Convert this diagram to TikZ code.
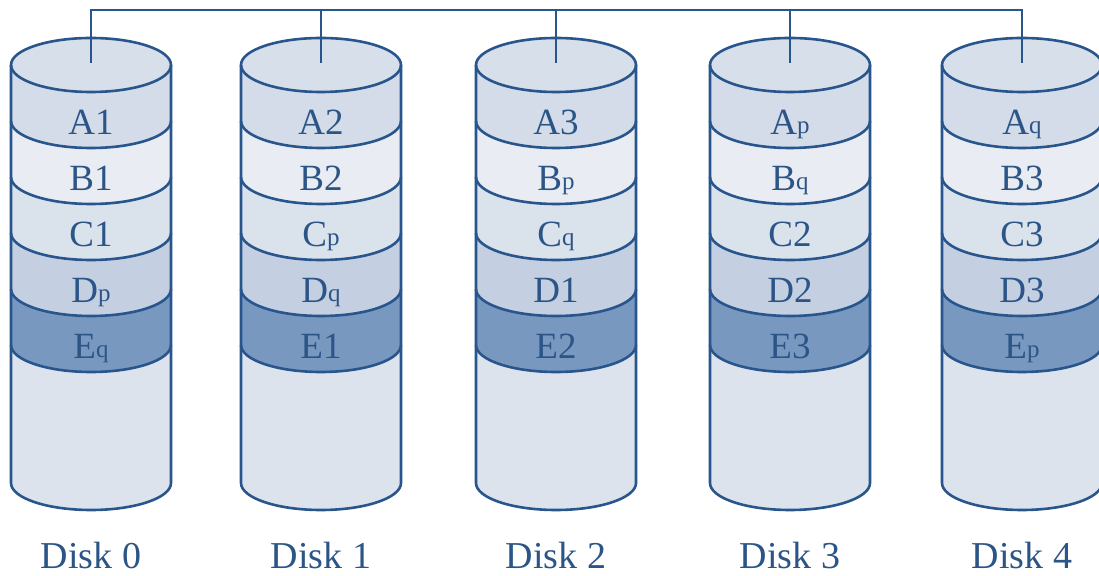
\documentclass[tikz,border=0pt]{standalone}
\usepackage{fontspec}
\setmainfont{Liberation Serif}
\definecolor{lineblue}{RGB}{40,86,140}
\definecolor{textblue}{RGB}{44,85,135}
\definecolor{topfill}{RGB}{215,223,234}
\definecolor{bandA}{RGB}{211,220,232}
\definecolor{bandB}{RGB}{233,237,243}
\definecolor{bandC}{RGB}{218,226,236}
\definecolor{bandD}{RGB}{196,208,225}
\definecolor{bandE}{RGB}{120,152,192}
\definecolor{bodyfill}{RGB}{220,227,237}
\newcommand\lowsub[1]{\raisebox{1.5pt}{\fontsize{25}{25}\selectfont #1}}
\tikzset{
  outline/.style={draw=lineblue, line width=2.6pt},
  bandlabel/.style={text=textblue, font=\fontsize{37}{37}\selectfont, anchor=base, inner sep=0pt},
  disklabel/.style={text=textblue, font=\fontsize{38}{38}\selectfont, anchor=base, inner sep=0pt},
  bus/.style={draw=lineblue, line width=2.6pt}
}
\begin{document}
\begin{tikzpicture}[x=1pt,y=1pt]
\useasboundingbox (0,0) rectangle (1099,575);
\def\rx{80}
\def\ry{27}
\foreach \i/\cx/\la/\lb/\lc/\ld/\le in {
  0/91/A1/B1/C1/D\lowsub{p}/E\lowsub{q},
  1/321/A2/B2/C\lowsub{p}/D\lowsub{q}/E1,
  2/556/A3/B\lowsub{p}/C\lowsub{q}/D1/E2,
  3/790/A\lowsub{p}/B\lowsub{q}/C2/D2/E3,
  4/1022/A\lowsub{q}/B3/C3/D3/E\lowsub{p}}{
  % body
  \fill[bodyfill] (\cx-\rx,510) -- (\cx-\rx,92) arc[start angle=180,end angle=360,x radius=\rx,y radius=\ry] -- (\cx+\rx,510) -- cycle;
  % band fills
  \foreach \k/\col in {454/bandA,398/bandB,342/bandC,286/bandD,230/bandE}{
    \pgfmathsetmacro\ytop{\k+56}
    \fill[\col] (\cx-\rx,\ytop) arc[start angle=180,end angle=360,x radius=\rx,y radius=\ry] -- (\cx+\rx,\k) arc[start angle=0,end angle=-180,x radius=\rx,y radius=\ry] -- cycle;
  }
  % band boundaries
  \foreach \k in {454,398,342,286,230}{
    \draw[outline] (\cx-\rx,\k) arc[start angle=180,end angle=360,x radius=\rx,y radius=\ry];
  }
  % top ellipse
  \filldraw[outline, fill=topfill] (\cx,510) ellipse[x radius=\rx,y radius=\ry];
  % outline of body
  \draw[outline] (\cx-\rx,510) -- (\cx-\rx,92) arc[start angle=180,end angle=360,x radius=\rx,y radius=\ry] -- (\cx+\rx,510);
  % labels
  \node[bandlabel] (la\i) at (\cx,440) {\la};
  \node[bandlabel] (lb\i) at (\cx,384) {\lb};
  \node[bandlabel] (lc\i) at (\cx,328) {\lc};
  \node[bandlabel] (ld\i) at (\cx,272) {\ld};
  \node[bandlabel] (le\i) at (\cx,216) {\le};
  \node[disklabel] (disk\i) at (\cx,7) {Disk \i};
  \coordinate (t\i) at (\cx,512);
  \coordinate (b\i) at (\cx,565);
}
\draw[bus] (t0) -- (b0) -- (b4) -- (t4);
\foreach \i in {1,2,3}{ \draw[bus] (b\i) -- (t\i); }
\end{tikzpicture}
\end{document}
